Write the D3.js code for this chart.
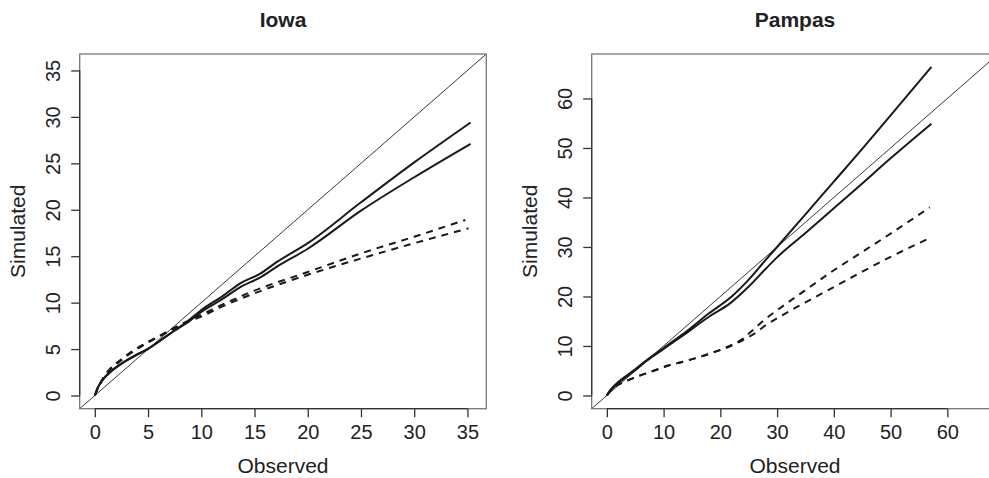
<!DOCTYPE html>
<html>
<head>
<meta charset="utf-8">
<script src="https://cdn.jsdelivr.net/npm/d3@7"></script>
<style>
  body { margin: 0; background: #fff; }
  text { font-family: "Liberation Sans", Arial, sans-serif; fill: #222; }
</style>
</head>
<body>
<div id="chart"></div>
<script>
// Iowa: observed vs simulated quantiles
const iowaSolidA = [[0,0],[0.3,0.9],[0.8,1.8],[1.5,2.6],[2.5,3.45],[4,4.45],[5,5.05],[6.5,6.2],[7.5,7],[8.5,7.8],[10,9.2],[12,10.7],[13.7,12.1],[15.5,13.1],[17,14.3],[20,16.4],[25,20.8],[30,25.1],[35.3,29.4]]
const iowaSolidB = [[0,0],[0.3,0.9],[0.8,1.75],[1.5,2.55],[2.5,3.4],[4,4.4],[5,5.0],[6.5,6.2],[7.5,7],[8.5,7.7],[10,9.0],[12,10.4],[13.7,11.7],[15.5,12.7],[17,13.8],[20,15.8],[25,19.9],[30,23.5],[35.3,27.1]]
const iowaDashA = [[0,0],[0.3,0.8],[0.66,1.65],[1.44,2.9],[2.5,3.9],[3.3,4.6],[4.7,5.6],[5.8,6.25],[7.3,7.2],[8.5,7.9],[10,8.7],[12,9.8],[15,11.3],[20,13.3],[25,15.3],[30,17.1],[34.8,18.9]]
const iowaDashB = [[0,0],[0.3,0.8],[0.66,1.6],[1.44,2.8],[2.5,3.8],[3.3,4.5],[4.7,5.5],[5.8,6.2],[7.3,7.1],[8.5,7.8],[10,8.5],[12,9.6],[15,11.0],[20,13.0],[25,14.75],[30,16.4],[35.1,18.0]]

// Pampas
const pampasSolidA = [[0,0],[0.5,0.9],[1.5,2.2],[3,3.6],[5,5.3],[7,7.1],[10,9.6],[14,12.9],[18,16.6],[22,20.0],[25,23.4],[28,27.4],[30,30.0],[35,36.6],[40,43.2],[45,49.8],[50,56.6],[57.2,66.4]]
const pampasSolidB = [[0,0],[0.5,0.8],[1.5,2.0],[3,3.4],[5,5.1],[7,7.0],[10,9.4],[14,12.6],[18,15.9],[21.7,18.6],[25,22.0],[28,25.6],[30,27.9],[35,32.8],[40,37.8],[45,42.8],[50,47.9],[57.2,54.9]]
const pampasDashA = [[0,0],[1,1.5],[2,2.2],[4,3.2],[6,4.1],[8,4.9],[11,6.1],[14,7.0],[16.4,7.8],[19,8.8],[21,9.7],[24,11.5],[26,13.5],[28,15.5],[30,17.2],[35,21.3],[40,25.3],[45,29],[50,32.7],[56.9,38.0]]
const pampasDashB = [[0,0],[1,1.5],[2,2.2],[4,3.2],[6,4.1],[8,4.9],[11,6.1],[14,7.0],[16.4,7.8],[19,8.8],[21,9.6],[24,11.2],[26,12.5],[28,14.2],[30,15.6],[35,18.8],[40,21.9],[45,25],[50,28],[56.9,31.8]]

const iowaTicks = [0, 5, 10, 15, 20, 25, 30, 35]
const pampasTicks = [0, 10, 20, 30, 40, 50, 60]

const panels = [
  { title: 'Iowa', left: 79.7, domain: [-1.42, 36.77], ticks: iowaTicks,
    solid: [iowaSolidA, iowaSolidB], dashed: [iowaDashA, iowaDashB] },
  { title: 'Pampas', left: 591.7, domain: [-2.67, 68.98], ticks: pampasTicks,
    solid: [pampasSolidA, pampasSolidB], dashed: [pampasDashA, pampasDashB] }
]

const boxTop = 54
const boxW = 406.6
const boxH = 354.7

const svg = d3
  .select('#chart')
  .append('svg')
  .attr('width', 989)
  .attr('height', 478)

panels.forEach((p, i) => {
  const x = d3.scaleLinear().domain(p.domain).range([0, boxW])
  const y = d3.scaleLinear().domain(p.domain).range([boxH, 0])

  const g = svg.append('g').attr('transform', `translate(${p.left},${boxTop})`)

  svg.append('clipPath')
    .attr('id', 'clip' + i)
    .append('rect')
    .attr('width', boxW)
    .attr('height', boxH)

  const line = d3.line()
    .x(d => x(d[0]))
    .y(d => y(d[1]))
    .curve(d3.curveMonotoneX)

  const plot = g.append('g').attr('clip-path', `url(#clip${i})`)

  // 1:1 line
  plot.append('path')
    .attr('d', d3.line().x(d => x(d[0])).y(d => y(d[1]))([[p.domain[0], p.domain[0]], [p.domain[1], p.domain[1]]]))
    .attr('fill', 'none')
    .attr('stroke', '#222')
    .attr('stroke-width', 0.9)

  plot.selectAll('.solid')
    .data(p.solid)
    .enter()
    .append('path')
    .attr('d', line)
    .attr('fill', 'none')
    .attr('stroke', '#1a1a1a')
    .attr('stroke-width', 2)

  plot.selectAll('.dashed')
    .data(p.dashed)
    .enter()
    .append('path')
    .attr('d', line)
    .attr('fill', 'none')
    .attr('stroke', '#1a1a1a')
    .attr('stroke-width', 2)
    .attr('stroke-dasharray', '7,6')

  // box
  g.append('rect')
    .attr('width', boxW)
    .attr('height', boxH)
    .attr('fill', 'none')
    .attr('stroke', '#777')
    .attr('stroke-width', 1.3)

  // x axis
  const xAxis = g.append('g')
    .attr('transform', `translate(0,${boxH})`)
    .call(d3.axisBottom(x).tickValues(p.ticks).tickSize(8.5).tickPadding(8).tickSizeOuter(0))
  xAxis.select('.domain').remove()
  xAxis.append('line')
    .attr('x1', x(p.ticks[0]))
    .attr('x2', x(p.ticks[p.ticks.length - 1]))
    .attr('stroke', '#333')
    .attr('stroke-width', 1.3)
  xAxis.selectAll('.tick line').attr('stroke', '#333').attr('stroke-width', 1.3)
  xAxis.selectAll('.tick text')
    .style('font-size', '20px')
    .style('font-family', '"Liberation Sans", Arial, sans-serif')
    .attr('fill', '#222')

  // y axis
  const yAxis = g.append('g')
    .call(d3.axisLeft(y).tickValues(p.ticks).tickSize(8.5).tickSizeOuter(0))
  yAxis.select('.domain').remove()
  yAxis.append('line')
    .attr('y1', y(p.ticks[0]))
    .attr('y2', y(p.ticks[p.ticks.length - 1]))
    .attr('stroke', '#333')
    .attr('stroke-width', 1.3)
  yAxis.selectAll('.tick line').attr('stroke', '#333').attr('stroke-width', 1.3)
  yAxis.selectAll('.tick text')
    .attr('x', 0)
    .attr('dy', 0)
    .attr('text-anchor', 'middle')
    .attr('transform', 'translate(-20,0) rotate(-90)')
    .style('font-size', '20px')
    .style('font-family', '"Liberation Sans", Arial, sans-serif')
    .attr('fill', '#222')

  // labels
  g.append('text')
    .text('Observed')
    .attr('x', boxW / 2)
    .attr('y', 419)
    .attr('text-anchor', 'middle')
    .style('font-size', '21px')

  g.append('text')
    .text('Simulated')
    .attr('transform', `translate(-55,${boxH / 2}) rotate(-90)`)
    .attr('text-anchor', 'middle')
    .style('font-size', '21px')

  g.append('text')
    .text(p.title)
    .attr('x', boxW / 2)
    .attr('y', -27)
    .attr('text-anchor', 'middle')
    .style('font-size', '21px')
    .style('font-weight', 'bold')
})
</script>
</body>
</html>
